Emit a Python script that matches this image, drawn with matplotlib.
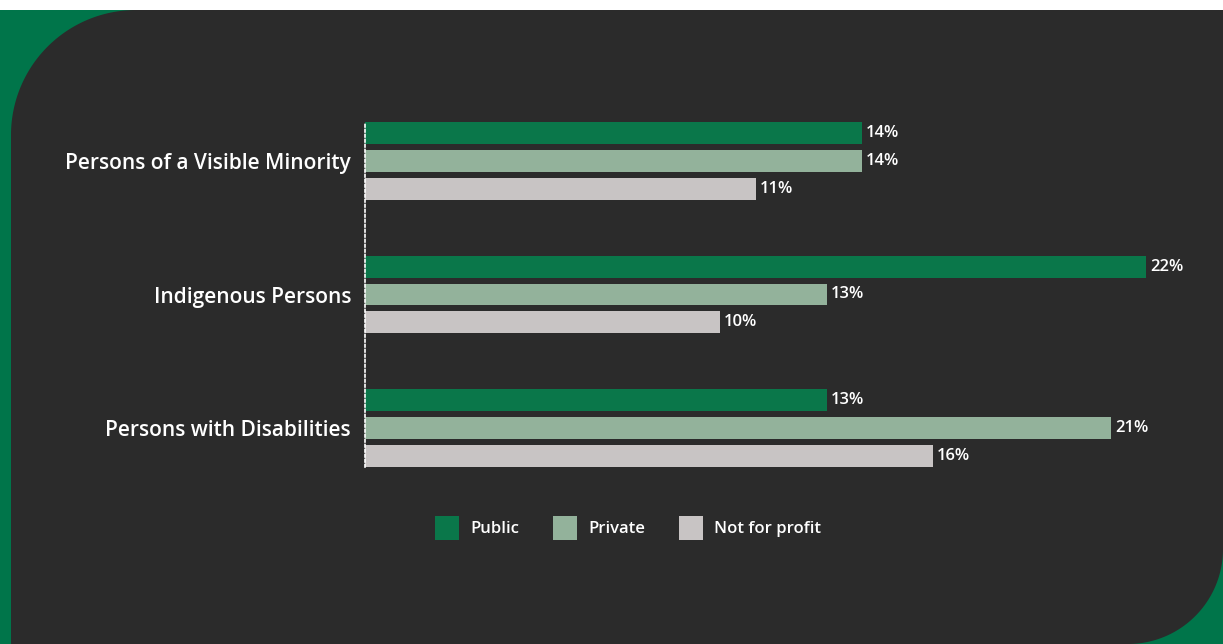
import numpy as np
import matplotlib.pyplot as plt
from matplotlib.patches import Polygon, Rectangle

categories = ['Persons of a Visible Minority', 'Indigenous Persons', 'Persons with Disabilities']
series = ['Public', 'Private', 'Not for profit']
public = [14, 22, 13]
private = [14, 13, 21]
not_for_profit = [11, 10, 16]
colors = ['#0a774a', '#93b29b', '#c8c4c4']

W, H = 1223, 644
plt.rcParams['font.family'] = ['Open Sans', 'DejaVu Sans']

fig = plt.figure(figsize=(W / 100, H / 100), dpi=100, facecolor='white')

# background: green band with a dark panel that has two rounded corners
bg = fig.add_axes([0, 0, 1, 1])
bg.set_xlim(0, W)
bg.set_ylim(H, 0)
bg.axis('off')
bg.add_patch(Rectangle((0, 10), W, H - 10, color='#00754a', lw=0))

r1, r2 = 125, 95
left, top = 11, 10
t1 = np.linspace(np.pi, 1.5 * np.pi, 60)
arc1 = np.column_stack([left + r1 + r1 * np.cos(t1), top + r1 + r1 * np.sin(t1)])
t2 = np.linspace(0, 0.5 * np.pi, 60)
arc2 = np.column_stack([W - r2 + r2 * np.cos(t2), H - r2 + r2 * np.sin(t2)])
pts = np.vstack([[[left, H]], arc1, [[W, top]], arc2])
bg.add_patch(Polygon(pts, closed=True, color='#2b2b2b', lw=0))

# bar chart
ax_left, ax_right = 365, 365 + 35.5 * 23
ax_top, ax_bot = 122, 467
ax = fig.add_axes([ax_left / W, 1 - ax_bot / H, (ax_right - ax_left) / W, (ax_bot - ax_top) / H])
ax.set_facecolor('none')

gap = 4.77
h = 22 / 28
centers = np.arange(len(categories)) * gap
for k, (vals, c) in enumerate(zip([public, private, not_for_profit], colors)):
    ys = centers + (k - 1)
    ax.barh(ys, vals, height=h, color=c, label=series[k])
    for y, v in zip(ys, vals):
        ax.text(v + 0.12, y, f'{v}%', va='center', ha='left', color='white',
                fontsize=12, fontweight='semibold')

ax.set_xlim(0, 23)
ax.set_ylim(centers[-1] + 1 + h / 2, centers[0] - 1 - h / 2)
ax.set_yticks(centers)
ax.set_yticklabels(categories, fontsize=15, fontweight='semibold', color='white')
ax.tick_params(axis='y', length=0, pad=10)
ax.set_xticks([])
for s in ['top', 'right', 'bottom']:
    ax.spines[s].set_visible(False)
ax.spines['left'].set_color('white')
ax.spines['left'].set_linewidth(1.2)
ax.spines['left'].set_linestyle((0, (1.5, 1.5)))

leg = fig.legend(loc='center', bbox_to_anchor=(628 / W, 1 - 528 / H), ncol=3,
                 frameon=False, handlelength=1.45, handleheight=1.9,
                 handletextpad=0.7, columnspacing=2.0,
                 prop={'size': 12, 'weight': 'semibold'})
for t in leg.get_texts():
    t.set_color('white')

fig.savefig('out.png', dpi=100, facecolor='white')
